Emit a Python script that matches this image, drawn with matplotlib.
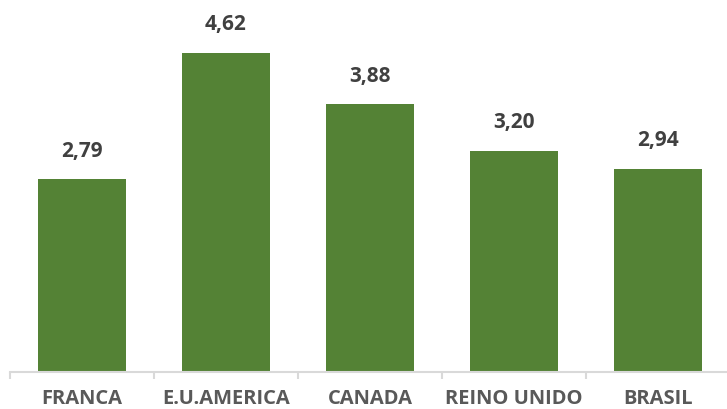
import matplotlib
matplotlib.use("Agg")
import matplotlib.pyplot as plt
import numpy as np

categories = ["FRANCA", "E.U.AMERICA", "CANADA", "REINO UNIDO", "BRASIL"]
values = [2.79, 4.62, 3.88, 3.20, 2.94]
value_labels = ["2,79", "4,62", "3,88", "3,20", "2,94"]

fig = plt.figure(figsize=(7.27, 4.10), dpi=100)
W, H = 727, 410
left, right = 10, 730
bottom_px = 372.5
ymax = 5.0
px_per_unit = 319 / 4.62
height_px = ymax * px_per_unit
ax = fig.add_axes([left / W, (H - bottom_px) / H, (right - left) / W, height_px / H])

x = np.arange(len(categories))
ax.bar(x, values, width=0.61, color="#548235", zorder=2)
ax.set_xlim(-0.5, len(categories) - 0.5)
ax.set_ylim(0, ymax)

font = "Open Sans"
for xi, v, lab in zip(x, values, value_labels):
    ax.annotate(lab, (xi, v), xytext=(0, 13), textcoords="offset points",
                ha="center", va="bottom", fontsize=15, fontweight="bold",
                color="#404040", family=font)

for s in ["top", "right", "left"]:
    ax.spines[s].set_visible(False)
ax.spines["bottom"].set_color("#d9d9d9")
ax.spines["bottom"].set_linewidth(1.5)
ax.set_yticks([])
ax.set_xticks(x)
ax.set_xticklabels(categories, fontsize=14.5, fontweight="bold", color="#595959", family=font)
ax.tick_params(axis="x", which="major", length=0, pad=12)
ax.set_xticks(np.arange(-0.5, len(categories) + 0.5, 1), minor=True)
ax.tick_params(axis="x", which="minor", length=5, width=1.5, color="#d9d9d9")

fig.savefig("out.png", dpi=100)
